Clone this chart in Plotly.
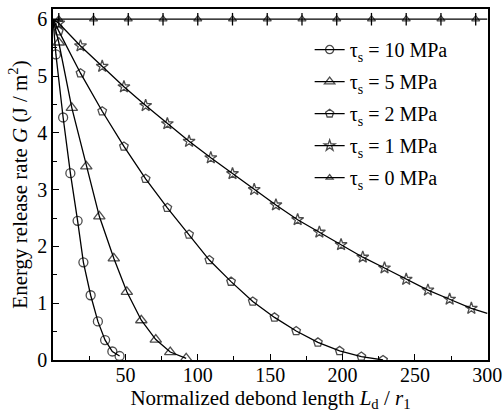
import plotly.graph_objects as go

# ---- data ----
G_START = 6.0          # all curves start at G = 6 J/m^2 for Ld/r1 = 0

LD_10 = [2, 7, 12, 17, 21, 26, 31, 36, 41, 46]
G_10 = [5.38, 4.27, 3.29, 2.45, 1.72, 1.14, 0.68, 0.35, 0.15, 0.07]

LD_5 = [4, 13, 23, 32, 42, 51, 61, 71, 81, 92]
G_5 = [5.59, 4.44, 3.41, 2.53, 1.79, 1.20, 0.70, 0.36, 0.14, 0.03]

LD_2 = [4, 19, 34, 49, 64, 79, 94, 108, 123, 138, 153, 168, 183, 198, 213, 228]
G_2 = [5.79, 5.05, 4.38, 3.76, 3.19, 2.68, 2.21, 1.76, 1.38, 1.03, 0.75, 0.51,
       0.31, 0.16, 0.06, 0.0]

LD_1 = [4, 19, 34, 49, 64, 79, 94, 109, 124, 139, 154, 169, 184, 199, 214,
        229, 244, 259, 274, 289]
G_1 = [5.93, 5.53, 5.17, 4.81, 4.48, 4.16, 3.85, 3.56, 3.28, 3.00, 2.73, 2.47,
       2.25, 2.03, 1.81, 1.62, 1.42, 1.23, 1.07, 0.91]
LD_1_END, G_1_END = 300, 0.82

LD_0 = [4, 28, 52, 76, 100, 124, 148, 172, 196, 220, 244, 268, 292]
G_0 = [6.0] * len(LD_0)
LD_0_END = 300

NAMES = ["τ<sub>s</sub> = 10 MPa", "τ<sub>s</sub> = 5 MPa", "τ<sub>s</sub> = 2 MPa",
         "τ<sub>s</sub> = 1 MPa", "τ<sub>s</sub> = 0 MPa"]

X_TICKS = [50, 100, 150, 200, 250, 300]
Y_TICKS = [0, 1, 2, 3, 4, 5, 6]

FONT = "Liberation Serif, Times New Roman, Times, serif"

fig = go.Figure()

series = [
    ([0] + LD_10, [G_START] + G_10, "circle-open", 9, NAMES[0]),
    ([0] + LD_5, [G_START] + G_5, "triangle-up-open", 10, NAMES[1]),
    ([0] + LD_2, [G_START] + G_2, "pentagon-open", 9, NAMES[2]),
    ([0] + LD_1 + [LD_1_END], [G_START] + G_1 + [G_1_END], "star-open", 9, NAMES[3]),
    ([0] + LD_0 + [LD_0_END], [G_START] + G_0 + [G_START], "triangle-up-open", 7, NAMES[4]),
]

for i, (xs, ys, sym, size, name) in enumerate(series):
    n = len(xs)
    sizes = [size] * n
    sizes[0] = 0
    if i >= 3:
        sizes[-1] = 0
    fig.add_trace(go.Scatter(
        x=xs, y=ys, mode="lines+markers", name=name,
        legendgroup=f"g{i}",
        line=dict(color="black", width=1.3),
        marker=dict(symbol=sym, size=sizes, color="black",
                    line=dict(color="black", width=1.3)),
    ))

# stem for the tau = 0 markers
fig.add_trace(go.Scatter(
    x=LD_0, y=G_0, mode="markers", showlegend=False, legendgroup="g4",
    marker=dict(symbol="line-ns-open", size=9, color="black",
                line=dict(color="black", width=1.3)),
))

axis_common = dict(
    showline=True, linecolor="black", linewidth=1.5, mirror=True,
    ticks="inside", ticklen=6, tickwidth=1.3, tickcolor="black",
    showgrid=False, zeroline=False, automargin=False,
    tickfont=dict(family=FONT, size=20, color="black"),
)

fig.update_xaxes(
    range=[0, 300.5], tickvals=X_TICKS, ticklabelstandoff=-4,
    minor=dict(dtick=25, tick0=0, ticks="inside", ticklen=4, tickwidth=1.2,
               tickcolor="black"),
    title=dict(text="Normalized debond length <i>L</i><sub>d</sub> / <i>r</i><sub>1</sub>",
               font=dict(family=FONT, size=21, color="black"), standoff=0),
    **axis_common,
)
fig.update_yaxes(
    range=[0, 6.18], tickvals=Y_TICKS,
    minor=dict(dtick=0.5, tick0=0, ticks="inside", ticklen=4, tickwidth=1.2,
               tickcolor="black"),
    title=dict(text="Energy release rate <i>G</i> (J / m<sup>2</sup>)",
               font=dict(family=FONT, size=21, color="black"), standoff=4),
    **axis_common,
)

fig.update_layout(
    width=504, height=415,
    margin=dict(l=53, r=16, t=9, b=55),
    paper_bgcolor="white", plot_bgcolor="white",
    font=dict(family=FONT, size=20, color="black"),
    legend=dict(x=0.59, y=0.94, xanchor="left", yanchor="top",
                bgcolor="rgba(0,0,0,0)", borderwidth=0,
                tracegroupgap=3, traceorder="grouped",
                font=dict(family=FONT, size=20, color="black")),
)

fig.write_html("out.html", config={"displayModeBar": False},
               post_script="document.body.style.margin='0';")
